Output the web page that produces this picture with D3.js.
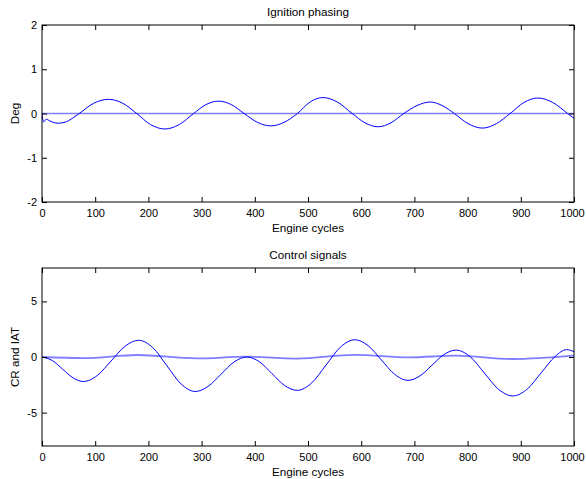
<!DOCTYPE html>
<html>
<head>
<meta charset="utf-8">
<script src="https://cdn.jsdelivr.net/npm/d3@7"></script>
<style>
  html, body { margin: 0; padding: 0; background: #fff; }
  svg { display: block; }
  text { font-family: "Liberation Sans", Arial, sans-serif; fill: #000; }
</style>
</head>
<body>
<div id="chart"></div>
<script>
// Ignition phasing: deviation from setpoint (deg) vs engine cycle
const phaseCycles = [0, 3, 8, 15, 30, 45, 58, 70, 97, 125, 152, 178, 204, 231, 258, 285, 308, 332, 356, 380,
  405, 430, 455, 480, 504, 528, 555, 583, 607, 632, 656, 680, 705, 730, 752, 775, 801, 828, 854, 880,
  906, 932, 960, 988, 1000];
const phaseValues = [0, -0.19, -0.13, -0.17, -0.22, -0.19, -0.1, 0, 0.23, 0.32, 0.23, 0, -0.25, -0.35, -0.25, 0, 0.2, 0.28, 0.2, 0,
  -0.2, -0.28, -0.2, 0, 0.26, 0.36, 0.26, 0, -0.21, -0.3, -0.21, 0, 0.18, 0.26, 0.18, 0, -0.23, -0.33, -0.23, 0,
  0.25, 0.35, 0.25, 0, -0.11];
// Phasing reference
const phaseRefCycles = [0, 1000];
const phaseRefValues = [0, 0];

// Control signals: CR (large swing) and IAT (small swing)
const crCycles = [0, 19.5, 39, 58.5, 78, 104, 130, 156, 182, 208.5, 235, 261.5, 288, 312, 336.5, 361, 385,
  409, 432.5, 456, 480, 507, 534, 561, 588, 613, 638, 663, 688, 710.5, 733, 755.5, 778,
  805, 831.5, 858, 885, 912, 938.5, 965, 986, 1000];
const crValues = [0, -0.32, -1.1, -1.88, -2.2, -1.66, -0.35, 0.96, 1.5, 0.83, -0.8, -2.43, -3.1, -2.65, -1.55, -0.45, 0,
  -0.44, -1.5, -2.56, -3.0, -2.33, -0.72, 0.89, 1.55, 1.02, -0.27, -1.56, -2.1, -1.7, -0.74, 0.22, 0.62,
  0.02, -1.44, -2.9, -3.5, -2.89, -1.41, 0.07, 0.66, 0.48];
const iatCycles = [0, 78, 180, 290, 385, 480, 588, 690, 778, 885, 1000];
const iatValues = [0, -0.1, 0.18, -0.13, 0.03, -0.15, 0.2, -0.03, 0.12, -0.18, 0.12];

// Axis ticks and labels
const xTicks = [0, 100, 200, 300, 400, 500, 600, 700, 800, 900, 1000];
const phaseTicks = [-2, -1, 0, 1, 2];
const controlTicks = [-5, 0, 5];
const titles = ["Ignition phasing", "Control signals"];
const yLabels = ["Deg", "CR and IAT"];
const xLabel = "Engine cycles";

const W = 586, H = 479;
const FS = 11.7;      // titles and axis labels
const TFS = 11;       // tick labels
const svg = d3.select("#chart").append("svg").attr("width", W).attr("height", H);

const left = 42, right = 574;
const panels = [
  { top: 25, bottom: 202, domain: [-2, 2], ticks: phaseTicks, title: titles[0], ylabel: yLabels[0],
    series: [
      { x: phaseRefCycles, y: phaseRefValues, color: "#7f7fff", width: 1.6 },
      { x: phaseCycles, y: phaseValues, color: "#0000ff", width: 1 }
    ] },
  { top: 268, bottom: 446, domain: [-8, 8], ticks: controlTicks, title: titles[1], ylabel: yLabels[1],
    series: [
      { x: iatCycles, y: iatValues, color: "#7f7fff", width: 1.8 },
      { x: crCycles, y: crValues, color: "#0000ff", width: 1 }
    ] }
];

const tickLen = 5;
const numFmt = d => (d < 0 ? "-" : "") + Math.abs(d);

panels.forEach(p => {
  const x = d3.scaleLinear().domain([0, 1000]).range([left, right]);
  const y = d3.scaleLinear().domain(p.domain).range([p.bottom, p.top]);
  const g = svg.append("g");

  const clipId = "clip" + p.top;
  svg.append("clipPath").attr("id", clipId)
    .append("rect").attr("x", left).attr("y", p.top).attr("width", right - left).attr("height", p.bottom - p.top);

  // Data lines
  const line = d3.line().x(d => x(d[0])).y(d => y(d[1])).curve(d3.curveMonotoneX);
  p.series.forEach(s => {
    const pts = s.x.map((c, i) => [c, s.y[i]]);
    g.append("path").datum(pts)
      .attr("d", line)
      .attr("fill", "none")
      .attr("stroke", s.color)
      .attr("stroke-width", s.width)
      .attr("clip-path", `url(#${clipId})`);
  });

  // Bottom axis with inward ticks
  const xAxis = d3.axisBottom(x).tickValues(xTicks).tickFormat(numFmt)
    .tickSizeInner(-tickLen).tickSizeOuter(0).tickPadding(7);
  const gx = g.append("g").attr("transform", `translate(0,${p.bottom})`).call(xAxis);
  gx.selectAll(".tick text").filter(d => d === 1000).attr("dx", -2);
  // Top axis mirror ticks
  const gxt = g.append("g").attr("transform", `translate(0,${p.top})`)
    .call(d3.axisTop(x).tickValues(xTicks).tickSizeInner(-tickLen).tickSizeOuter(0).tickFormat(""));
  // Left axis
  const gy = g.append("g").attr("transform", `translate(${left},0)`)
    .call(d3.axisLeft(y).tickValues(p.ticks).tickFormat(numFmt)
      .tickSizeInner(-tickLen).tickSizeOuter(0).tickPadding(5));
  // Right axis mirror ticks
  const gyr = g.append("g").attr("transform", `translate(${right},0)`)
    .call(d3.axisRight(y).tickValues(p.ticks).tickSizeInner(-tickLen).tickSizeOuter(0).tickFormat(""));

  [gx, gxt, gy, gyr].forEach(a => {
    a.select(".domain").remove();
    a.selectAll("line").attr("stroke", "#000");
    a.selectAll("text").attr("font-size", TFS).attr("font-family", "Liberation Sans, Arial, sans-serif").attr("fill", "#000");
  });

  // Axes box
  g.append("rect")
    .attr("x", left).attr("y", p.top)
    .attr("width", right - left).attr("height", p.bottom - p.top)
    .attr("fill", "none").attr("stroke", "#000").attr("stroke-width", 1);

  // Title
  g.append("text").attr("x", (left + right) / 2).attr("y", p.top - 9)
    .attr("text-anchor", "middle").attr("font-size", FS).text(p.title);
  // X label
  g.append("text").attr("x", (left + right) / 2).attr("y", p.bottom + 30)
    .attr("text-anchor", "middle").attr("font-size", FS).text(xLabel);
  // Y label
  g.append("text")
    .attr("transform", `translate(19,${(p.top + p.bottom) / 2}) rotate(-90)`)
    .attr("text-anchor", "middle").attr("font-size", FS).text(p.ylabel);
});
</script>
</body>
</html>
